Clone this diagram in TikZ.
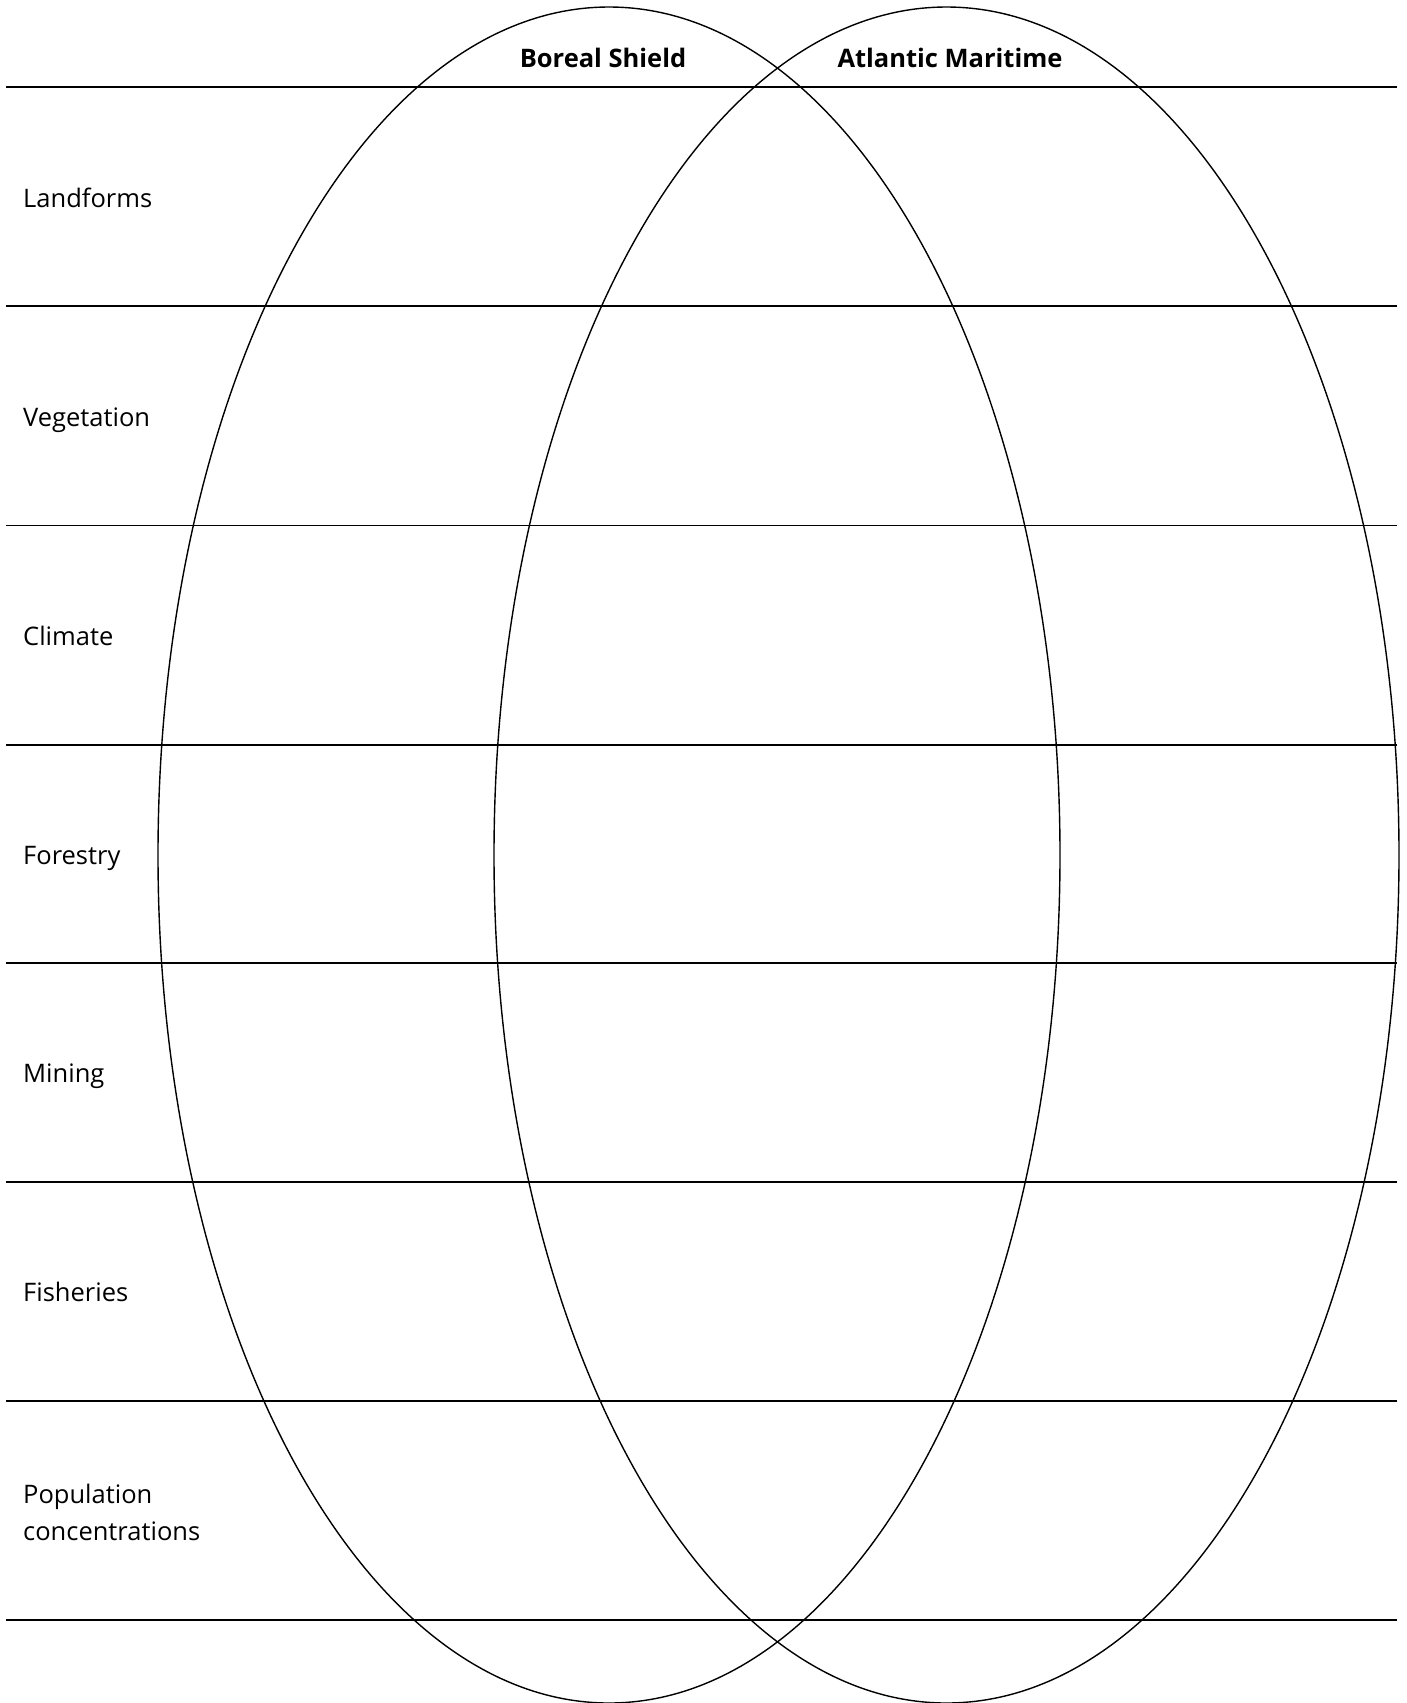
\documentclass[tikz,border=0pt]{standalone}
\usepackage{fontspec}
\setmainfont{Open Sans}
\begin{document}
\begin{tikzpicture}[x=1pt,y=-1pt,
  rowline/.style={line width=1.6pt},
  venn/.style={line width=1.4pt},
  rowlabel/.style={anchor=base west,inner sep=0pt,font=\fontsize{25.5}{37}\selectfont,align=left},
  headlabel/.style={anchor=base,inner sep=0pt,font=\fontsize{25.5}{30}\selectfont\bfseries}]
\useasboundingbox (0,0) rectangle (1406,1703);
\fill[white] (0,0) rectangle (1406,1703);
% row lines
\foreach \yy in {87,306,525.5,745,963,1182,1401,1620}
  \draw[rowline] (6,\yy) -- (1397,\yy);
% ellipses
\draw[venn] (609,855) ellipse [x radius=451, y radius=848];
\draw[venn] (946.5,855) ellipse [x radius=452.5, y radius=848];
% headings
\node[headlabel] (boreal) at (603,67) {Boreal Shield};
\node[headlabel] (atlantic) at (950,67) {Atlantic Maritime};
% row labels
\node[rowlabel] (landforms) at (23,207) {Landforms};
\node[rowlabel] (vegetation) at (23,426) {Vegetation};
\node[rowlabel] (climate) at (23,645) {Climate};
\node[rowlabel] (forestry) at (23,864) {Forestry};
\node[rowlabel] (mining) at (23,1082) {Mining};
\node[rowlabel] (fisheries) at (23,1301) {Fisheries};
\node[rowlabel] (population) at (23,1540) {Population\\concentrations};
\end{tikzpicture}
\end{document}
